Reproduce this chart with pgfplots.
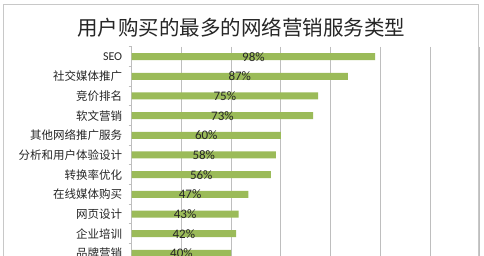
\documentclass[border=0pt]{standalone}
\usepackage{pgfplots}
\pgfplotsset{compat=1.18}
\usepackage{pgfplotstable}
\usepackage{fontspec}
\setmainfont{Carlito}
\newfontfamily\cjk{Noto Sans CJK SC}
\definecolor{bargreen}{RGB}{155,187,89}
\definecolor{gridgray}{RGB}{190,190,190}
\definecolor{framegray}{RGB}{200,200,200}
\pgfplotstableread{
idx val
0 98
1 87
2 75
3 73
4 60
5 58
6 56
7 47
8 43
9 42
10 40
}\datatable
\begin{document}
\begin{tikzpicture}[x=1pt,y=1pt]
\useasboundingbox (0,0) rectangle (484,256);
\clip (0,0) rectangle (484,256);
\fill[white] (0,0) rectangle (484,256);
\draw[framegray, line width=1pt] (3,251) rectangle (478,-20);
\node[font=\cjk\fontsize{20.5}{24}\selectfont, text=black!85] at (241,228.5) {用户购买的最多的网络营销服务类型};
\begin{axis}[
  at={(131.7pt,209.2pt)}, anchor=north west,
  scale only axis, width=347.9pt, height=216.4pt,
  xmin=0, xmax=140, xtick={0,20,...,140}, xticklabels={},
  xmajorgrids, grid style={gridgray, line width=0.8pt},
  ymin=-0.5, ymax=10.5, y dir=reverse,
  ytick={0,...,10},
  minor ytick={-0.5,0.5,...,10.5},
  yticklabels={{\normalfont\fontsize{12}{13}\selectfont SEO},社交媒体推广,竞价排名,软文营销,其他网络推广服务,分析和用户体验设计,转换率优化,在线媒体购买,网页设计,企业培训,品牌营销},
  yticklabel style={font=\cjk\fontsize{11.5}{13}\selectfont, text=black!85, xshift=-6pt},
  axis y line*=left, axis x line*=bottom,
  y axis line style={gridgray, line width=0.8pt, -},
  x axis line style={draw=none},
  xtick style={draw=none},
  major tick length=0pt, minor tick length=3pt,
  tick align=outside,
  ytick style={gridgray, line width=0.8pt},
  /pgf/number format/assume math mode=true,
  clip=false,
]
\addplot[xbar, bar width=7pt, fill=bargreen, draw=none] table[x=val, y=idx] {\datatable};
\addplot[draw=none, mark=none, point meta=explicit,
  nodes near coords={\pgfmathprintnumber{\pgfplotspointmeta}\%},
  every node near coord/.append style={anchor=center, font=\fontsize{13}{14}\selectfont, text=black!85}]
  table[x expr=\thisrow{val}/2, y=idx, meta=val] {\datatable};
\end{axis}
\end{tikzpicture}
\end{document}
